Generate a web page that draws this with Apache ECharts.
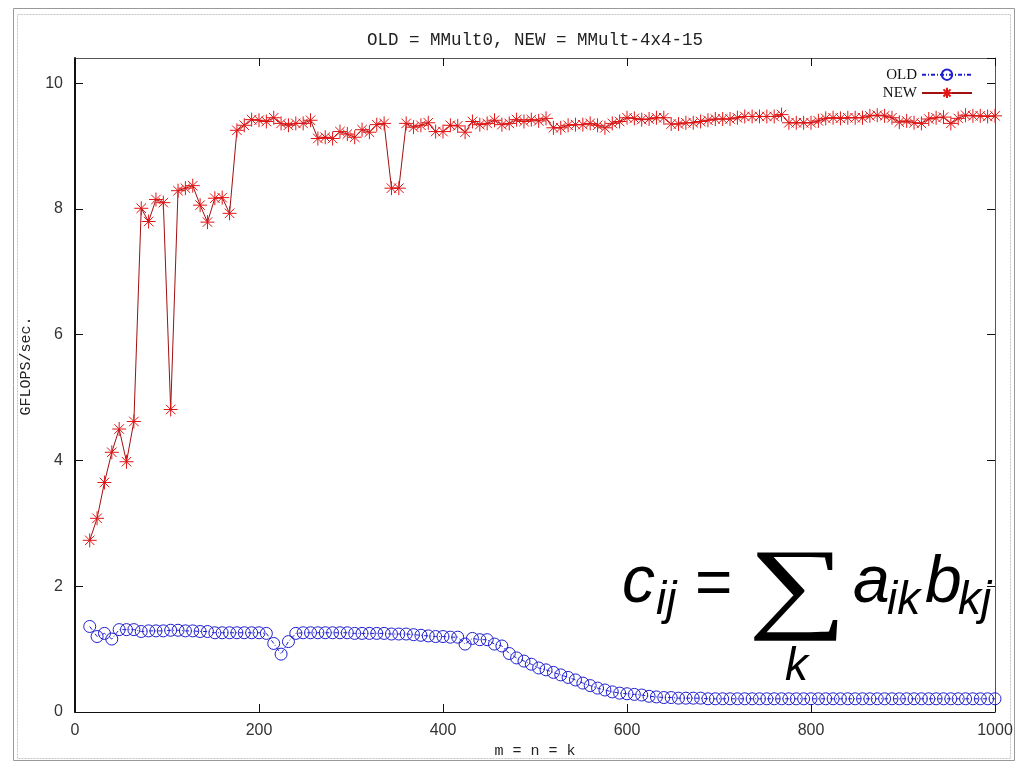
<!DOCTYPE html>
<html>
<head>
<meta charset="utf-8">
<script src="https://cdn.jsdelivr.net/npm/echarts@6/dist/echarts.min.js"></script>
<style>
html,body{margin:0;padding:0;background:#fff;}
#chart{width:1018px;height:766px;}
</style>
</head>
<body>
<div id="chart"></div>
<script>
// problem sizes m = n = k
var sizes = [16,24,32,40,48,56,64,72,80,88,96,104,112,120,128,136,144,152,160,168,176,184,192,200,
208,216,224,232,240,248,256,264,272,280,288,296,304,312,320,328,336,344,352,360,368,376,384,392,400,
408,416,424,432,440,448,456,464,472,480,488,496,504,512,520,528,536,544,552,560,568,576,584,592,600,
608,616,624,632,640,648,656,664,672,680,688,696,704,712,720,728,736,744,752,760,768,776,784,792,800,
808,816,824,832,840,848,856,864,872,880,888,896,904,912,920,928,936,944,952,960,968,976,984,992,1000];

// OLD = MMult0 (GFLOPS/sec.)
var oldVals = [1.36,1.20,1.25,1.16,1.31,1.31,1.31,1.28,1.29,1.29,1.29,1.30,1.30,1.29,1.29,1.28,1.28,1.26,1.26,1.26,
1.26,1.26,1.26,1.26,1.25,1.09,0.92,1.12,1.25,1.26,1.26,1.26,1.26,1.26,1.26,1.26,1.25,1.25,1.25,1.25,
1.25,1.24,1.24,1.24,1.23,1.22,1.21,1.20,1.20,1.19,1.19,1.08,1.17,1.15,1.15,1.08,1.05,0.93,0.86,0.81,
0.76,0.70,0.67,0.63,0.59,0.55,0.51,0.46,0.42,0.38,0.35,0.32,0.30,0.29,0.28,0.27,0.25,0.24,0.23,0.23,
0.22,0.22,0.22,0.22,0.21,0.21,0.21,0.21,0.21,0.21,0.21,0.21,0.21,0.21,0.21,0.21,0.21,0.21,0.21,0.21,
0.21,0.21,0.21,0.21,0.21,0.21,0.21,0.21,0.21,0.21,0.21,0.21,0.21,0.21,0.21,0.21,0.21,0.21,0.21,0.21,
0.21,0.21,0.21,0.21];

// NEW = MMult-4x4-15 (GFLOPS/sec.)
var newVals = [2.73,3.08,3.65,4.13,4.50,3.98,4.62,8.01,7.80,8.15,8.10,4.81,8.29,8.33,8.37,8.06,7.79,8.17,8.18,7.93,
9.25,9.33,9.42,9.41,9.39,9.45,9.36,9.33,9.36,9.36,9.41,9.12,9.14,9.12,9.23,9.19,9.14,9.26,9.22,9.34,
9.36,8.33,8.33,9.36,9.30,9.33,9.37,9.23,9.23,9.33,9.32,9.22,9.39,9.34,9.36,9.41,9.34,9.36,9.42,9.39,
9.42,9.40,9.44,9.29,9.29,9.33,9.34,9.34,9.36,9.33,9.29,9.36,9.39,9.45,9.44,9.42,9.43,9.45,9.45,9.35,
9.35,9.37,9.37,9.39,9.41,9.43,9.43,9.43,9.45,9.47,9.47,9.47,9.47,9.47,9.50,9.37,9.37,9.37,9.37,9.40,
9.44,9.45,9.44,9.45,9.45,9.45,9.48,9.49,9.48,9.45,9.38,9.40,9.37,9.36,9.43,9.45,9.46,9.36,9.44,9.49,
9.48,9.48,9.47,9.48];

var titleText = 'OLD = MMult0, NEW = MMult-4x4-15';
var xName = 'm = n = k';
var yName = 'GFLOPS/sec.';
var xTicks = [0, 200, 400, 600, 800, 1000];
var yTicks = [0, 2, 4, 6, 8, 10];

function pairs(xs, ys) { return xs.map(function (x, i) { return [x, ys[i]]; }); }

var starPath = 'path://M0,5L10,5M5,0L5,10M1.6,1.6L8.4,8.4M8.4,1.6L1.6,8.4';
var chart = echarts.init(document.getElementById('chart'), null, {renderer: 'canvas'});

var mono = 'Liberation Mono';
var ff = 'Liberation Sans';

var formula = [
  {t: 'c', x: 622, b: 612, s: 66},
  {t: 'ij', x: 656, b: 621, s: 46},
  {t: '=', x: 695, b: 614, s: 64, up: true},
  {t: 'k', x: 785, b: 687, s: 46},
  {t: 'a', x: 853, b: 612, s: 66},
  {t: 'ik', x: 887, b: 621, s: 46},
  {t: 'b', x: 925, b: 612, s: 66},
  {t: 'kj', x: 958, b: 621, s: 46}
];
var graphics = formula.map(function (f) {
  return {
    type: 'text', left: f.x, top: f.b - Math.round(f.s * 0.93), z: 100,
    style: {text: f.t, fill: '#000', font: (f.up ? '' : 'italic ') + f.s + 'px "' + ff + '"'}
  };
});
graphics.push({
  type: 'text', x: 748, y: 541, scaleX: 1.24, scaleY: 0.91, z: 100,
  style: {text: '\u2211', fill: '#000', font: '112px "Liberation Serif"'}
});
// outer slide frame
graphics.push({type: 'rect', left: 11, top: 6, z: 0, shape: {width: 1001, height: 752},
  style: {fill: 'none', stroke: '#9a9a9a', lineWidth: 1}});
graphics.push({type: 'rect', left: 15, top: 12, z: 0, shape: {width: 993, height: 744},
  style: {fill: 'none', stroke: '#c4c4c4', lineWidth: 1, lineDash: [2, 1]}});

var option = {
  backgroundColor: '#fff',
  animation: false,
  title: {
    text: titleText, left: 530, top: 26, textAlign: 'center',
    textStyle: {fontFamily: mono, fontSize: 17.5, fontWeight: 'normal', color: '#222'}
  },
  legend: {
    right: 40, top: 62, orient: 'vertical', align: 'right', itemGap: 3,
    itemWidth: 50, itemHeight: 13,
    textStyle: {fontFamily: 'Liberation Serif', fontSize: 15, color: '#111'},
    data: ['OLD', 'NEW']
  },
  grid: {left: 75, right: 23, top: 58, bottom: 54, containLabel: false},
  xAxis: [{
    type: 'value', min: 0, max: 1000, interval: 200,
    name: xName, nameLocation: 'middle', nameGap: 32,
    nameTextStyle: {fontFamily: mono, fontSize: 15, color: '#222'},
    axisLine: {show: true, onZero: false, lineStyle: {color: '#111', width: 1}},
    axisTick: {show: true, inside: true, length: 8, lineStyle: {color: '#111'}},
    axisLabel: {fontFamily: ff, fontSize: 16, color: '#333', margin: 11,
      formatter: function (v) { return String(v); }},
    splitLine: {show: false}
  }, {
    type: 'value', min: 0, max: 1000, interval: 200, position: 'top',
    axisLine: {show: true, onZero: false, lineStyle: {color: '#555', width: 1}},
    axisTick: {show: true, inside: true, length: 8, lineStyle: {color: '#111'}},
    axisLabel: {show: false}, splitLine: {show: false}
  }],
  yAxis: [{
    type: 'value', min: 0, max: 10.4, interval: 2,
    name: yName, nameLocation: 'middle', nameGap: 41, nameRotate: 90,
    nameTextStyle: {fontFamily: mono, fontSize: 15, color: '#222', padding: [0, 0, 0, 38]},
    axisLine: {show: true, onZero: false, lineStyle: {color: '#111', width: 2}},
    axisTick: {show: true, inside: true, length: 8, lineStyle: {color: '#111'}},
    axisLabel: {fontFamily: ff, fontSize: 16, color: '#333', margin: 12, showMaxLabel: false},
    splitLine: {show: false}
  }, {
    type: 'value', min: 0, max: 10.4, interval: 2, position: 'right',
    axisLine: {show: true, onZero: false, lineStyle: {color: '#555', width: 1}},
    axisTick: {show: true, inside: true, length: 8, lineStyle: {color: '#111'}},
    axisLabel: {show: false}, splitLine: {show: false}
  }],
  series: [{
    name: 'OLD', type: 'line', data: pairs(sizes, oldVals),
    symbol: 'circle', symbolSize: 12, showAllSymbol: true,
    lineStyle: {color: '#1f1fd0', width: 1, type: [4, 2, 1, 2]},
    itemStyle: {color: 'none', borderColor: '#1f1fd0', borderWidth: 1},
    emphasis: {disabled: true}, z: 3
  }, {
    name: 'NEW', type: 'line', data: pairs(sizes, newVals),
    symbol: starPath, symbolSize: 14, showAllSymbol: true,
    lineStyle: {color: '#a01010', width: 1},
    itemStyle: {color: '#e01515', borderColor: '#e01515', borderWidth: 1},
    emphasis: {disabled: true}, z: 4
  }],
  graphic: graphics
};
chart.setOption(option);
</script>
</body>
</html>
